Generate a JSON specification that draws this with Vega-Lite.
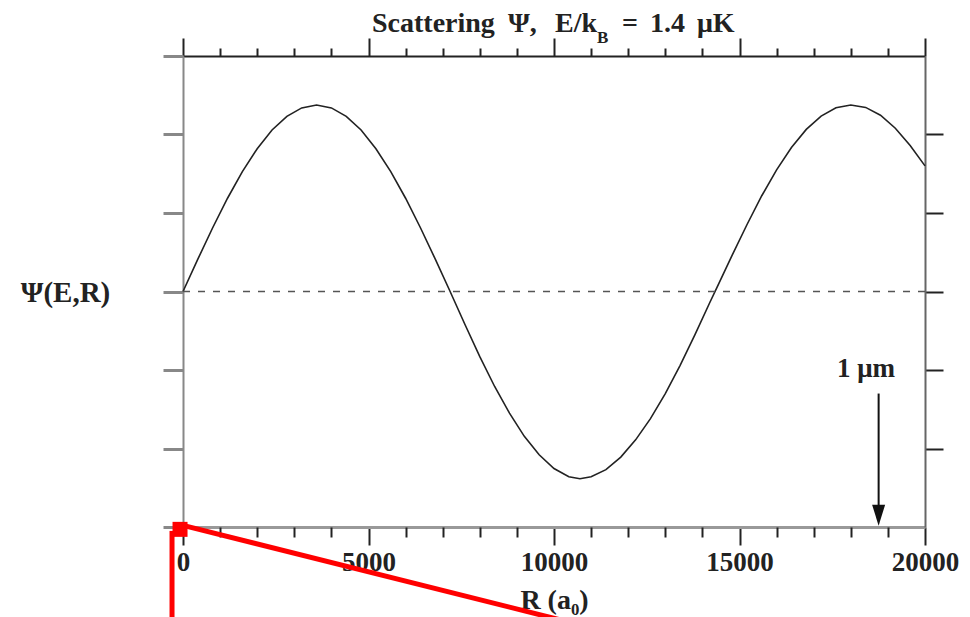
{
  "$schema": "https://vega.github.io/schema/vega-lite/v6.json",
  "autosize": "none",
  "width": 742,
  "height": 471,
  "padding": {"left": 183, "top": 56, "right": 45, "bottom": 90},
  "background": "white",
  "config": {
    "view": {"stroke": null},
    "axis": {"grid": false, "labelFont": "Liberation Serif", "labelFontWeight": "bold", "labelColor": "#222", "titleFont": "Liberation Serif", "titleFontWeight": "bold", "titleColor": "#222", "tickColor": "#222", "domainColor": "#444"}
  },
  "datasets": {
    "wave": [
      {"R": 0, "psi": 0}, {"R": 400, "psi": 0.412}, {"R": 800, "psi": 0.812}, {"R": 1200, "psi": 1.188},
      {"R": 1600, "psi": 1.527}, {"R": 2000, "psi": 1.819}, {"R": 2400, "psi": 2.057}, {"R": 2800, "psi": 2.232},
      {"R": 3200, "psi": 2.339}, {"R": 3600, "psi": 2.375}, {"R": 4000, "psi": 2.339}, {"R": 4400, "psi": 2.232},
      {"R": 4800, "psi": 2.057}, {"R": 5200, "psi": 1.819}, {"R": 5600, "psi": 1.527}, {"R": 6000, "psi": 1.188},
      {"R": 6400, "psi": 0.812}, {"R": 6800, "psi": 0.412}, {"R": 7200, "psi": 0}, {"R": 7600, "psi": -0.42},
      {"R": 8000, "psi": -0.83}, {"R": 8400, "psi": -1.21}, {"R": 8800, "psi": -1.55}, {"R": 9200, "psi": -1.845},
      {"R": 9600, "psi": -2.08}, {"R": 10000, "psi": -2.255}, {"R": 10400, "psi": -2.36}, {"R": 10700, "psi": -2.385},
      {"R": 11000, "psi": -2.36}, {"R": 11400, "psi": -2.27}, {"R": 11800, "psi": -2.11}, {"R": 12200, "psi": -1.89},
      {"R": 12600, "psi": -1.62}, {"R": 13000, "psi": -1.3}, {"R": 13400, "psi": -0.94}, {"R": 13800, "psi": -0.55},
      {"R": 14200, "psi": -0.14}, {"R": 14400, "psi": 0.06}, {"R": 14800, "psi": 0.46}, {"R": 15200, "psi": 0.85},
      {"R": 15600, "psi": 1.22}, {"R": 16000, "psi": 1.55}, {"R": 16400, "psi": 1.835}, {"R": 16800, "psi": 2.065},
      {"R": 17200, "psi": 2.235}, {"R": 17600, "psi": 2.34}, {"R": 18000, "psi": 2.375}, {"R": 18400, "psi": 2.345},
      {"R": 18800, "psi": 2.245}, {"R": 19200, "psi": 2.08}, {"R": 19600, "psi": 1.86}, {"R": 20000, "psi": 1.6}
    ],
    "titleMain": [
      {"R": 5094, "y": 3.306, "label": "Scattering"},
      {"R": 8760, "y": 3.306, "label": "Ψ,"},
      {"R": 10027, "y": 3.306, "label": "E/k"},
      {"R": 11833, "y": 3.306, "label": "="},
      {"R": 12588, "y": 3.306, "label": "1.4"},
      {"R": 13854, "y": 3.306, "label": "μK"}
    ],
    "titleSub": [{"R": 11159, "y": 3.166, "label": "B"}]
  },
  "resolve": {"axis": {"x": "independent", "y": "independent"}},
  "layer": [
    {
      "data": {"name": "wave"},
      "mark": {"type": "line", "stroke": "#222", "strokeWidth": 1.6},
      "encoding": {
        "x": {"field": "R", "type": "quantitative", "scale": {"domain": [0, 20000], "nice": false, "zero": false},
          "axis": {"orient": "bottom", "values": [0, 5000, 10000, 15000, 20000], "tickSize": 18, "tickWidth": 2, "labelFontSize": 27, "labelPadding": 4, "labelFlush": false, "format": "d", "domainColor": "#999", "domainWidth": 3,
            "title": "R (a₀)", "titleFontSize": 28, "titleY": 81, "titleBaseline": "alphabetic"}},
        "y": {"field": "psi", "type": "quantitative", "scale": {"domain": [-3, 3], "nice": false, "zero": false},
          "axis": {"orient": "left", "values": [-3, -2, -1, 0, 1, 2, 3], "tickSize": 20, "tickWidth": 3, "tickColor": "#888", "labels": false, "domainColor": "#888", "domainWidth": 2,
            "title": "Ψ(E,R)", "titleFontSize": 29, "titleAngle": 0, "titleAlign": "center", "titleBaseline": "middle", "titleX": -118, "titleY": 236}}
      }
    },
    {
      "data": {"values": [{"level": 0}]},
      "mark": {"type": "rule", "stroke": "#555", "strokeWidth": 1.5, "strokeDash": [7, 8]},
      "encoding": {
        "y": {"field": "level", "type": "quantitative", "scale": {"domain": [-3, 3], "nice": false, "zero": false},
          "axis": {"orient": "right", "values": [-2, -1, 0, 1, 2], "tickSize": 18, "tickWidth": 2, "labels": false, "domainColor": "#666", "domainWidth": 2, "title": null}}
      }
    },
    {
      "data": {"values": [{"R": -80, "y": -3.03}]},
      "mark": {"type": "point", "shape": "square", "size": 225, "filled": true, "color": "#ff0000", "opacity": 1},
      "encoding": {
        "x": {"field": "R", "type": "quantitative", "scale": {"domain": [0, 20000], "nice": false, "zero": false},
          "axis": {"orient": "bottom", "values": [1000, 2000, 3000, 4000, 6000, 7000, 8000, 9000, 11000, 12000, 13000, 14000, 16000, 17000, 18000, 19000], "tickSize": 10, "tickWidth": 2, "labels": false, "domain": false, "title": null}},
        "y": {"field": "y", "type": "quantitative", "scale": {"domain": [-3, 3], "nice": false, "zero": false}, "axis": null}
      }
    },
    {
      "data": {"values": [{"R": -296, "y": -3.05, "y2": -4.5}]},
      "mark": {"type": "rule", "stroke": "#ff0000", "strokeWidth": 5},
      "encoding": {
        "x": {"field": "R", "type": "quantitative", "scale": {"domain": [0, 20000], "nice": false, "zero": false},
          "axis": {"orient": "top", "values": [1000, 2000, 3000, 4000, 6000, 7000, 8000, 9000, 11000, 12000, 13000, 14000, 16000, 17000, 18000, 19000], "tickSize": 8, "tickWidth": 2, "labels": false, "domainColor": "#222", "domainWidth": 2, "title": null}},
        "y": {"field": "y", "type": "quantitative", "scale": {"domain": [-3, 3], "nice": false, "zero": false}, "axis": null},
        "y2": {"field": "y2"}
      }
    },
    {
      "data": {"values": [{"R": 0, "y": -2.98, "R2": 12345, "y2": -4.44}]},
      "mark": {"type": "rule", "stroke": "#ff0000", "strokeWidth": 5},
      "encoding": {
        "x": {"field": "R", "type": "quantitative", "scale": {"domain": [0, 20000], "nice": false, "zero": false},
          "axis": {"orient": "top", "values": [0, 5000, 10000, 15000, 20000], "tickSize": 18, "tickWidth": 2, "labels": false, "domain": false, "title": null}},
        "x2": {"field": "R2"},
        "y": {"field": "y", "type": "quantitative", "scale": {"domain": [-3, 3], "nice": false, "zero": false}, "axis": null},
        "y2": {"field": "y2"}
      }
    },
    {
      "data": {"values": [{"R": 18750, "y": -1.3, "y2": -2.8}]},
      "mark": {"type": "rule", "stroke": "#111", "strokeWidth": 2},
      "encoding": {
        "x": {"field": "R", "type": "quantitative", "scale": {"domain": [0, 20000], "nice": false, "zero": false}, "axis": null},
        "y": {"field": "y", "type": "quantitative", "scale": {"domain": [-3, 3], "nice": false, "zero": false}, "axis": null},
        "y2": {"field": "y2"}
      }
    },
    {
      "data": {"values": [{"R": 18750, "y": -2.85}]},
      "mark": {"type": "point", "shape": "M-0.62,-1L0.62,-1L0,1Z", "size": 441, "filled": true, "color": "#111", "opacity": 1},
      "encoding": {
        "x": {"field": "R", "type": "quantitative", "scale": {"domain": [0, 20000], "nice": false, "zero": false}, "axis": null},
        "y": {"field": "y", "type": "quantitative", "scale": {"domain": [-3, 3], "nice": false, "zero": false}, "axis": null}
      }
    },
    {
      "data": {"values": [{"R": 18410, "y": -1.09, "label": "1 μm"}]},
      "mark": {"type": "text", "font": "Liberation Serif", "fontWeight": "bold", "fontSize": 27, "align": "center", "baseline": "alphabetic", "color": "#222"},
      "encoding": {
        "x": {"field": "R", "type": "quantitative", "scale": {"domain": [0, 20000], "nice": false, "zero": false}, "axis": null},
        "y": {"field": "y", "type": "quantitative", "scale": {"domain": [-3, 3], "nice": false, "zero": false}, "axis": null},
        "text": {"field": "label"}
      }
    },
    {
      "data": {"name": "titleMain"},
      "mark": {"type": "text", "font": "Liberation Serif", "fontWeight": "bold", "fontSize": 28, "align": "left", "baseline": "alphabetic", "color": "#222"},
      "encoding": {
        "x": {"field": "R", "type": "quantitative", "scale": {"domain": [0, 20000], "nice": false, "zero": false}, "axis": null},
        "y": {"field": "y", "type": "quantitative", "scale": {"domain": [-3, 3], "nice": false, "zero": false}, "axis": null},
        "text": {"field": "label"}
      }
    },
    {
      "data": {"name": "titleSub"},
      "mark": {"type": "text", "font": "Liberation Serif", "fontWeight": "bold", "fontSize": 17, "align": "left", "baseline": "alphabetic", "color": "#222"},
      "encoding": {
        "x": {"field": "R", "type": "quantitative", "scale": {"domain": [0, 20000], "nice": false, "zero": false}, "axis": null},
        "y": {"field": "y", "type": "quantitative", "scale": {"domain": [-3, 3], "nice": false, "zero": false}, "axis": null},
        "text": {"field": "label"}
      }
    }
  ]
}
